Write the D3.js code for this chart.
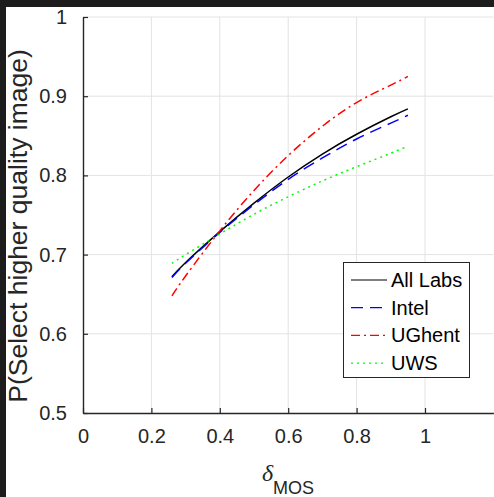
<!DOCTYPE html>
<html><head><meta charset="utf-8">
<script src="https://cdn.jsdelivr.net/npm/d3@7"></script>
<style>html,body{margin:0;padding:0;background:#1c1c1c;}svg{display:block;}</style>
</head><body>
<script>
const deltaMOS = [0.26, 0.30, 0.40, 0.50, 0.60, 0.70, 0.80, 0.90, 0.95];
const allLabs  = [0.672, 0.690, 0.729, 0.765, 0.798, 0.827, 0.852, 0.874, 0.884];
const intel    = [0.671, 0.689, 0.728, 0.763, 0.795, 0.822, 0.846, 0.866, 0.876];
const ughent   = [0.648, 0.673, 0.730, 0.781, 0.825, 0.862, 0.892, 0.914, 0.925];
const uws      = [0.689, 0.700, 0.726, 0.751, 0.773, 0.793, 0.811, 0.828, 0.837];
const seriesNames = ["All Labs", "Intel", "UGhent", "UWS"];
const xTicks = [0, 0.2, 0.4, 0.6, 0.8, 1];
const xTickLabels = ["0", "0.2", "0.4", "0.6", "0.8", "1"];
const yTicks = [0.5, 0.6, 0.7, 0.8, 0.9, 1];
const yTickLabels = ["0.5", "0.6", "0.7", "0.8", "0.9", "1"];

const W = 494, H = 497;
const svg = d3.select("body").append("svg").attr("width", W).attr("height", H);
svg.append("rect").attr("x", 6).attr("y", 7).attr("width", W - 6).attr("height", H - 7).attr("fill", "#ffffff");

const x = d3.scaleLinear().domain([0, 1.2]).range([83, 83 + 1.2 * 342]);
const y = d3.scaleLinear().domain([0.5, 1]).range([413, 17]);

// grid
const g = svg.append("g");
g.selectAll("line.gx").data(xTicks.slice(1)).enter().append("line")
  .attr("x1", d => x(d)).attr("x2", d => x(d)).attr("y1", y(0.5)).attr("y2", y(1))
  .attr("stroke", "#e3e3e3").attr("stroke-width", 1);
g.selectAll("line.gy").data(yTicks.slice(1)).enter().append("line")
  .attr("x1", x(0)).attr("x2", x(1.2)).attr("y1", d => y(d)).attr("y2", d => y(d))
  .attr("stroke", "#e3e3e3").attr("stroke-width", 1);

// axes
const font = "'Liberation Sans', Arial, Helvetica, sans-serif";
const xAxis = d3.axisBottom(x).tickValues(xTicks).tickFormat((d, i) => xTickLabels[i]).tickSizeInner(-5).tickSizeOuter(0).tickPadding(20);
const yAxis = d3.axisLeft(y).tickValues(yTicks).tickFormat((d, i) => yTickLabels[i]).tickSizeInner(-5).tickSizeOuter(0).tickPadding(16);
const gx = svg.append("g").attr("transform", `translate(0,${y(0.5)})`).call(xAxis);
const gy = svg.append("g").attr("transform", `translate(${x(0)},0)`).call(yAxis);
[gx, gy].forEach(a => {
  a.select(".domain").attr("stroke", "#262626").attr("stroke-width", 1.4);
  a.selectAll(".tick line").attr("stroke", "#262626").attr("stroke-width", 1.2);
  a.selectAll(".tick text").attr("fill", "#262626").style("font-family", font).style("font-size", "20px");
});
gx.selectAll(".tick text").attr("dy", "0.5em");

// lines
const data = [allLabs, intel, ughent, uws];
const colors = ["#000000", "#0000ff", "#ff0000", "#00ff00"];
const dashes = [null, "12,7", "9,4,2,4", "2,4"];
const line = d3.line().x((d, i) => x(deltaMOS[i])).y(d => y(d)).curve(d3.curveNatural);
data.forEach((s, k) => {
  svg.append("path").datum(s).attr("d", line).attr("fill", "none")
    .attr("stroke", colors[k]).attr("stroke-width", 1.5)
    .attr("stroke-dasharray", dashes[k]);
});

// labels
svg.append("text").attr("transform", `translate(27,${226}) rotate(-90)`)
  .attr("text-anchor", "middle").style("font-family", font).style("font-size", "26.5px").attr("fill", "#262626")
  .text("P(Select higher quality image)");
const xl = svg.append("text").attr("x", 288).attr("y", 481).attr("text-anchor", "middle").attr("fill", "#262626");
xl.append("tspan").style("font-family", "'Liberation Serif', 'Times New Roman', serif").style("font-style", "italic").style("font-size", "24px").text("δ");
xl.append("tspan").attr("dy", 13).style("font-family", font).style("font-size", "18px").text("MOS");

// legend
const lg = svg.append("g");
lg.append("rect").attr("x", 343.5).attr("y", 262.5).attr("width", 126).attr("height", 115)
  .attr("fill", "#ffffff").attr("stroke", "#262626").attr("stroke-width", 1);
seriesNames.forEach((n, k) => {
  const yy = 280 + k * 27.7;
  lg.append("line").attr("x1", 351).attr("x2", 387).attr("y1", yy).attr("y2", yy)
    .attr("stroke", colors[k]).attr("stroke-width", 1.2).attr("stroke-dasharray", dashes[k]);
  lg.append("text").attr("x", 391).attr("y", yy).attr("dy", "0.35em")
    .style("font-family", font).style("font-size", "20px").attr("fill", "#000").text(n);
});
</script>
</body></html>
